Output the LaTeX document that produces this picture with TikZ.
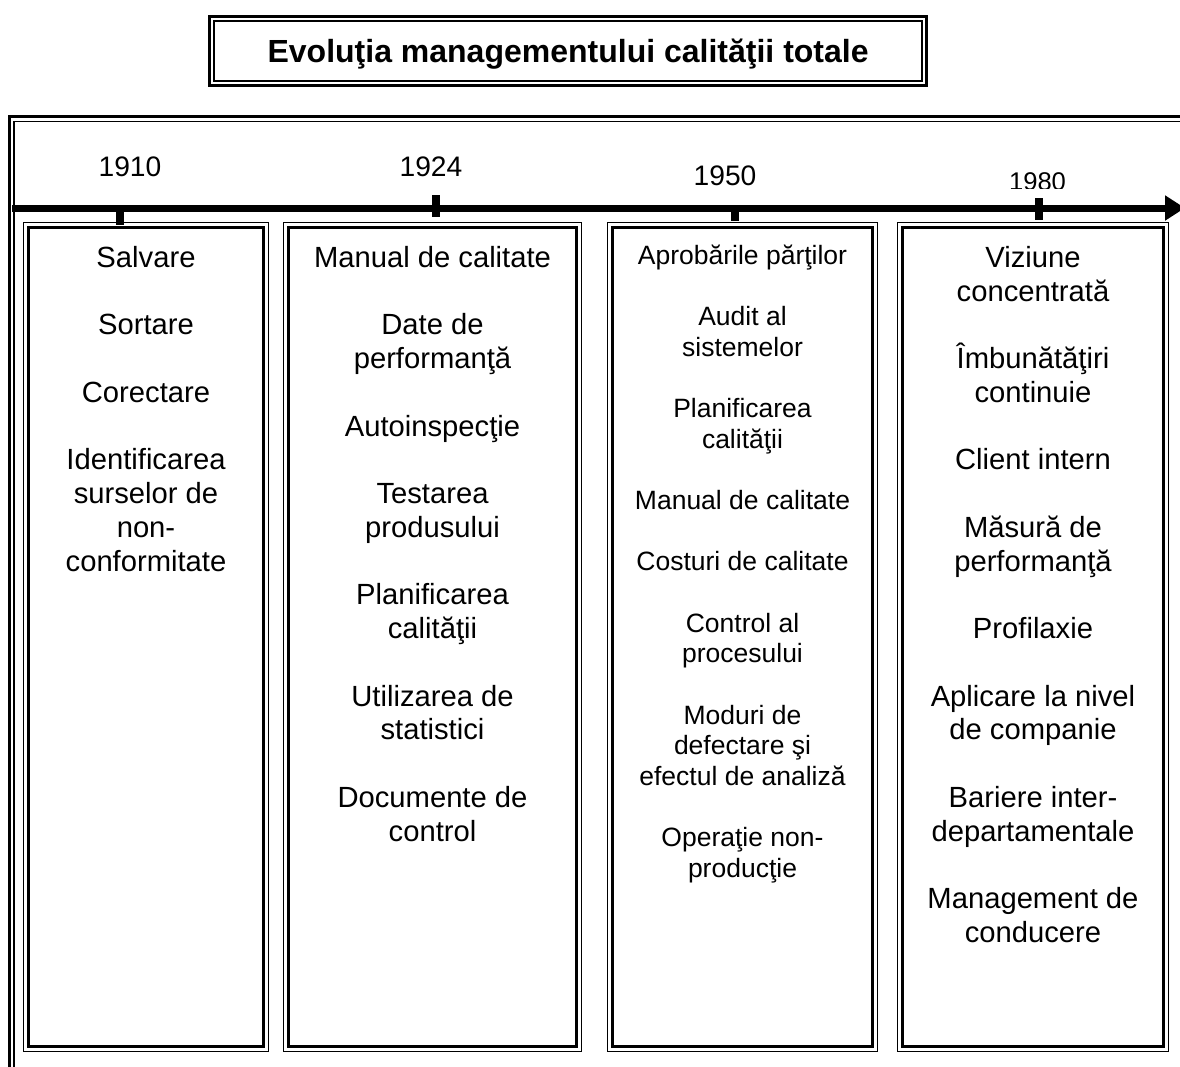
\documentclass[tikz,border=0pt]{standalone}
\usepackage{fontspec}
\setmainfont{Liberation Sans}
\usetikzlibrary{arrows.meta}
\tikzset{
  colbox/.style={draw, line width=1.3pt, inner sep=0pt, outer sep=0pt, anchor=north west},
  listtext/.style={align=center, inner sep=0pt, anchor=north, font=\fontsize{29.2}{33.75}\selectfont},
  smalllist/.style={listtext, font=\fontsize{26.5}{30.65}\selectfont},
  yearlabel/.style={inner sep=0pt, anchor=base, font=\fontsize{28.2}{30}\selectfont},
}
\begin{document}
\begin{tikzpicture}[x=1pt, y=-1pt]
\useasboundingbox (0,0) rectangle (1180,1066);
\clip (0,0) rectangle (1180,1066);

% title
\node[draw, line width=3pt, outer sep=0pt, inner sep=0pt, minimum width=716.8pt, minimum height=69pt, text height=23pt, text depth=0pt, font=\fontsize{32}{36}\selectfont\bfseries] (title) at (568.1,51) {Evoluţia managementului calităţii totale};
\path[draw, line width=1.5pt] ([shift={(4.4pt,-4.4pt)}]title.north west) rectangle ([shift={(-4.4pt,4.4pt)}]title.south east);

% outer frame
\path[draw, line width=3pt] (9.7,1080) |- (1190,116.5);
\path[draw, line width=1.5pt] (14,1080) |- (1190,121.5);

% time axis
\coordinate (t0) at (12,208);
\coordinate (t1) at (1185,208);
\path[draw, line width=7pt, -{Triangle[length=20pt, width=24pt]}] (t0) -- (t1);
\path[draw, line width=8pt] (120,208) -- (120,225);
\path[draw, line width=8pt] (436,195) -- (436,217);
\path[draw, line width=8pt] (734.7,208) -- (734.7,221);
\path[draw, line width=8pt] (1039,198) -- (1039,220);

\node[yearlabel] (y1910) at (130,176) {1910};
\node[yearlabel] (y1924) at (431,176) {1924};
\node[yearlabel] (y1950) at (725,185) {1950};
\begin{scope}
\clip (990,150) rectangle (1090,188.5);
\node[yearlabel, font=\fontsize{25.6}{28}\selectfont] (y1980) at (1037.5,190.5) {1980};
\end{scope}

% columns
\node[colbox, minimum width=244.7pt, minimum height=828.7pt] (box1) at (23.65,222.65) {};
\node[colbox, minimum width=297.7pt, minimum height=828.7pt] (box2) at (283.65,222.65) {};
\node[colbox, minimum width=269.7pt, minimum height=828.7pt] (box3) at (607.65,222.65) {};
\node[colbox, minimum width=270.7pt, minimum height=828.7pt] (box4) at (897.65,222.65) {};
\path[draw, line width=2.6pt] ([shift={(5pt,-5pt)}]box1.north west) rectangle ([shift={(-5pt,5pt)}]box1.south east);
\path[draw, line width=2.6pt] ([shift={(5pt,-5pt)}]box2.north west) rectangle ([shift={(-5pt,5pt)}]box2.south east);
\path[draw, line width=2.6pt] ([shift={(5pt,-5pt)}]box3.north west) rectangle ([shift={(-5pt,5pt)}]box3.south east);
\path[draw, line width=2.6pt] ([shift={(5pt,-5pt)}]box4.north west) rectangle ([shift={(-5pt,5pt)}]box4.south east);

\node[listtext] (list1) at (146,246.1) {Salvare\\[33.75pt]Sortare\\[33.75pt]Corectare\\[33.75pt]Identificarea\\surselor de\\non-\\conformitate};
\node[listtext] (list2) at (432.5,246.1) {Manual de calitate\\[33.75pt]Date de\\performanţă\\[33.75pt]Autoinspecţie\\[33.75pt]Testarea\\produsului\\[33.75pt]Planificarea\\calităţii\\[33.75pt]Utilizarea de\\statistici\\[33.75pt]Documente de\\control};
\node[smalllist] (list3) at (742.5,244.6) {Aprobările părţilor\\[30.65pt]Audit al\\sistemelor\\[30.65pt]Planificarea\\calităţii\\[30.65pt]Manual de calitate\\[30.65pt]Costuri de calitate\\[30.65pt]Control al\\procesului\\[30.65pt]Moduri de\\defectare şi\\efectul de analiză\\[30.65pt]Operaţie non-\\producţie};
\node[listtext] (list4) at (1033,246.1) {Viziune\\concentrată\\[33.75pt]Îmbunătăţiri\\continuie\\[33.75pt]Client intern\\[33.75pt]Măsură de\\performanţă\\[33.75pt]Profilaxie\\[33.75pt]Aplicare la nivel\\de companie\\[33.75pt]Bariere inter-\\departamentale\\[33.75pt]Management de\\conducere};
\end{tikzpicture}
\end{document}
